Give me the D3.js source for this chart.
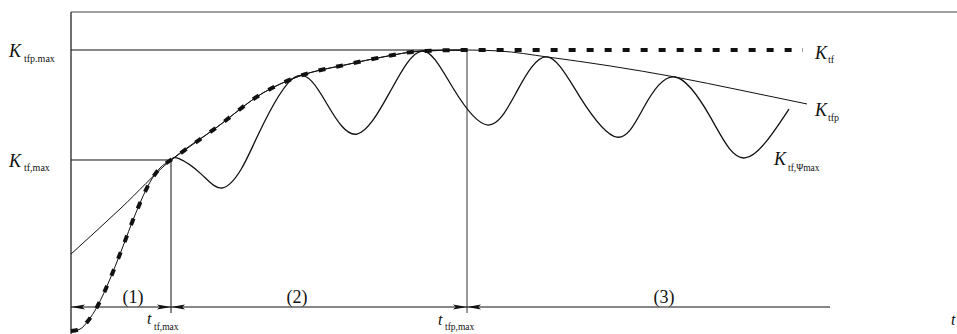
<!DOCTYPE html>
<html>
<head>
<meta charset="utf-8">
<script src="https://cdn.jsdelivr.net/npm/d3@7"></script>
<style>
  html, body { margin: 0; padding: 0; background: #fff; }
  svg { display: block; }
  text { font-family: "Liberation Serif", "DejaVu Serif", serif; fill: #111; }
</style>
</head>
<body>
<svg id="chart" width="957" height="334"></svg>
<script>
// Time t (in units of t_tf,max) and per-unit coefficient K

// Envelope of the peaks: K_tfp
const tfpT = [0, 0.5, 1.0, 1.46, 1.92, 2.26, 2.79, 3.12, 3.51, 3.96, 4.29, 4.76, 5.39, 6.04, 6.69, 7.36];
const tfpK = [0.206, 0.385, 0.572, 0.700, 0.833, 0.895, 0.946, 0.973, 0.996, 1.000, 0.996, 0.973, 0.938, 0.895, 0.844, 0.790];

// K_tf: rising S-curve, follows the envelope, then stays at its maximum
const tfT = [0, 0.09, 0.17, 0.26, 0.39, 0.49, 0.66, 0.79, 0.89, 1.0, 1.46, 1.92, 2.26, 2.79, 3.12, 3.51, 3.96, 7.32];
const tfK = [-0.093, -0.086, -0.054, 0, 0.109, 0.206, 0.377, 0.486, 0.541, 0.572, 0.700, 0.833, 0.895, 0.946, 0.973, 0.996, 1.000, 1.000];

// Oscillating coefficient K_tf,Ψmax
const psiT = [1.0, 1.08, 1.30, 1.51, 1.70, 1.87, 2.24, 2.56, 2.86, 3.19, 3.51, 3.82, 4.17, 4.46, 4.76, 5.09, 5.46, 5.73, 6.04, 6.40, 6.74, 7.18];
const psiK = [0.572, 0.577, 0.518, 0.463, 0.535, 0.669, 0.895, 0.790, 0.673, 0.837, 0.996, 0.852, 0.708, 0.840, 0.973, 0.817, 0.661, 0.778, 0.895, 0.735, 0.580, 0.770];

// Characteristic values
const tTfMax = 1.0;       // t_tf,max
const tTfpMax = 3.96;     // t_tfp,max
const kTfMax = 0.572;     // K_tf,max
const kTfpMax = 1.0;      // K_tfp,max
const tAxisEnd = 7.59;    // end of the time-interval line
const stageLabels = ["(1)", "(2)", "(3)"];
const stageCenters = [0.62, 2.26, 5.93];

const svg = d3.select("#chart");
const x = d3.scaleLinear().domain([0, 8.86]).range([71, 957]);
const y = d3.scaleLinear().domain([0, 1]).range([307, 50]);

const ink = "#111";
const g = svg.append("g");

const zip = (ts, ks) => ts.map((t, i) => [t, ks[i]]);
const line = d3.line().x(d => x(d[0])).y(d => y(d[1])).curve(d3.curveMonotoneX);
const wave = d3.line().x(d => x(d[0])).y(d => y(d[1])).curve(d3.curveNatural);

// Frame: vertical axis and top border
g.append("line").attr("x1", x(0)).attr("x2", x(0)).attr("y1", 12).attr("y2", 334)
  .attr("stroke", ink).attr("stroke-width", 1.2);
g.append("line").attr("x1", x(0)).attr("x2", 957).attr("y1", 12).attr("y2", 12)
  .attr("stroke", "#444").attr("stroke-width", 1.1);

// Reference levels
g.append("line").attr("x1", x(0)).attr("x2", x(tTfpMax)).attr("y1", y(kTfpMax)).attr("y2", y(kTfpMax))
  .attr("stroke", ink).attr("stroke-width", 1);
g.append("line").attr("x1", x(0)).attr("x2", x(tTfMax)).attr("y1", y(kTfMax)).attr("y2", y(kTfMax))
  .attr("stroke", ink).attr("stroke-width", 1);

// Vertical markers at t_tf,max and t_tfp,max
g.append("line").attr("x1", x(tTfMax)).attr("x2", x(tTfMax)).attr("y1", y(kTfMax)).attr("y2", y(0) + 6)
  .attr("stroke", ink).attr("stroke-width", 1);
g.append("line").attr("x1", x(tTfpMax)).attr("x2", x(tTfpMax)).attr("y1", y(kTfpMax)).attr("y2", y(0) + 6)
  .attr("stroke", "#333").attr("stroke-width", 1);

// Time-interval line with arrowheads
g.append("line").attr("x1", x(0)).attr("x2", x(tAxisEnd)).attr("y1", y(0)).attr("y2", y(0))
  .attr("stroke", ink).attr("stroke-width", 1.1);
function arrowHead(tip, dir) {
  const len = 14, hw = 2.6, py = y(0);
  g.append("path")
    .attr("d", `M${tip},${py} L${tip - dir * len},${py - hw} L${tip - dir * len * 0.8},${py} L${tip - dir * len},${py + hw} Z`)
    .attr("fill", ink);
}
arrowHead(x(0), -1);
arrowHead(x(tTfMax), 1);
arrowHead(x(tTfMax), -1);
arrowHead(x(tTfpMax), 1);
arrowHead(x(tTfpMax), -1);

// Envelope K_tfp (thin)
g.append("path").datum(zip(tfpT, tfpK)).attr("d", line)
  .attr("fill", "none").attr("stroke", ink).attr("stroke-width", 1);

// K_tf: thin trace up to t_tfp,max, thick dashes over the whole curve
const tfPts = zip(tfT, tfK);
g.append("path").datum(tfPts.filter(d => d[0] <= tTfpMax)).attr("d", line)
  .attr("fill", "none").attr("stroke", ink).attr("stroke-width", 1);
g.append("path").datum(tfPts).attr("d", line)
  .attr("fill", "none").attr("stroke", ink).attr("stroke-width", 4)
  .attr("stroke-dasharray", "7,11");

// Oscillating K_tf,Ψmax
g.append("path").datum(zip(psiT, psiK)).attr("d", wave)
  .attr("fill", "none").attr("stroke", ink).attr("stroke-width", 1.3);

// Labels: main symbol plus subscript
function sym(xp, yp, main, sub, size, subSize, italic, dx, dy) {
  g.append("text").attr("x", xp).attr("y", yp)
    .attr("font-size", size).attr("font-style", italic ? "italic" : "normal").text(main);
  g.append("text").attr("x", xp + dx).attr("y", yp + dy)
    .attr("font-size", subSize).text(sub);
}
sym(9, 57, "K", "tfp.max", 18, 10, true, 15, 5);
sym(9, 167, "K", "tf,max", 18, 10, true, 15, 4);
sym(815, 59, "K", "tf", 18, 10, true, 13, 4);
sym(815, 116, "K", "tfp", 18, 10, true, 13, 5);
sym(774, 165, "K", "tf,Ψmax", 18, 9.5, true, 14, 6);
sym(147, 324, "t", "tf,max", 16, 9.5, true, 7, 6);
sym(438, 325, "t", "tfp,max", 16, 9.5, true, 7, 5);
g.append("text").attr("x", 951).attr("y", 325).attr("font-size", 16)
  .attr("font-style", "italic").text("t");

// Stage labels
stageLabels.forEach((s, i) => {
  g.append("text").attr("x", x(stageCenters[i])).attr("y", 303)
    .attr("text-anchor", "middle").attr("font-size", 18).text(s);
});
</script>
</body>
</html>
